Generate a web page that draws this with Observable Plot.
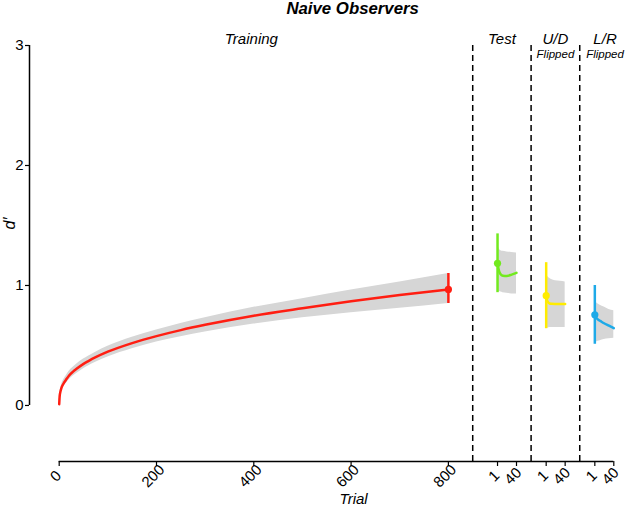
<!DOCTYPE html>
<html>
<head>
<meta charset="utf-8">
<script src="https://cdn.jsdelivr.net/npm/d3@7"></script>
<script src="https://cdn.jsdelivr.net/npm/@observablehq/plot@0.6"></script>
<style>
  html, body { margin: 0; padding: 0; background: #fff; }
  #chart svg { display: block; }
</style>
</head>
<body>
<div id="chart"></div>
<script>
// ---- Data ----
const trainTrial = [0, 1, 2, 5, 10, 15, 20, 28, 35, 50, 60, 75, 100, 150, 200, 250, 300, 400, 500, 600, 700, 800];
const trainD     = [0.01, 0.08, 0.105, 0.15, 0.19, 0.22, 0.248, 0.28, 0.303, 0.347, 0.37, 0.402, 0.448, 0.52, 0.578, 0.628, 0.672, 0.748, 0.81, 0.868, 0.92, 0.967];
const trainLo    = [0.0, 0.065, 0.085, 0.125, 0.16, 0.188, 0.213, 0.243, 0.265, 0.307, 0.329, 0.36, 0.403, 0.472, 0.528, 0.573, 0.612, 0.678, 0.73, 0.773, 0.81, 0.85];
const trainHi    = [0.02, 0.095, 0.125, 0.175, 0.22, 0.252, 0.283, 0.317, 0.341, 0.387, 0.411, 0.444, 0.493, 0.568, 0.628, 0.683, 0.732, 0.818, 0.89, 0.963, 1.03, 1.10];
const trainEnd   = {trial: 800, d: 0.967, lo: 0.85, hi: 1.10};

const phaseTrial = [1, 2, 3, 5, 8, 12, 20, 30, 40];
const testD  = [1.185, 1.16, 1.14, 1.11, 1.09, 1.082, 1.08, 1.09, 1.105];
const testLo = [0.94, 0.945, 0.95, 0.95, 0.945, 0.94, 0.935, 0.93, 0.93];
const testHi = [1.34, 1.33, 1.32, 1.30, 1.29, 1.285, 1.28, 1.275, 1.27];
const testErr = {d: 1.185, lo: 0.94, hi: 1.43};

const udD  = [0.915, 0.89, 0.875, 0.86, 0.85, 0.848, 0.846, 0.845, 0.845];
const udLo = [0.64, 0.64, 0.645, 0.645, 0.65, 0.65, 0.65, 0.65, 0.65];
const udHi = [1.13, 1.11, 1.09, 1.07, 1.06, 1.05, 1.04, 1.035, 1.03];
const udErr = {d: 0.915, lo: 0.64, hi: 1.19};

const lrD  = [0.755, 0.745, 0.735, 0.725, 0.715, 0.705, 0.685, 0.665, 0.645];
const lrLo = [0.52, 0.52, 0.525, 0.53, 0.535, 0.54, 0.55, 0.555, 0.56];
const lrHi = [0.88, 0.87, 0.865, 0.855, 0.845, 0.835, 0.82, 0.80, 0.79];
const lrErr = {d: 0.755, lo: 0.51, hi: 1.0};

// phase offsets on the continuous trial axis
const phaseNames   = ["Test", "U/D", "L/R"];
const phaseOffsets = [900, 1000, 1100];
const phaseColors  = ["#72ea1e", "#ffec00", "#1eaae8"];
const dividers     = [850, 970, 1070];

const tickPos    = [0, 200, 400, 600, 800, 901, 940, 1001, 1040, 1101, 1140];
const tickLabels = ["0", "200", "400", "600", "800", "1", "40", "1", "40", "1", "40"];

const sectionLabels = ["Training", "Test", "U/D", "L/R"];
const sectionX      = [395, 910, 1020, 1122];
const subLabels     = ["Flipped", "Flipped"];
const subX          = [1020, 1122];

const yTicks = [0, 1, 2, 3];
const yMin = -0.467;
const xMax = 1140;

// ---- Build tables ----
const train = trainTrial.map((t, i) => ({t, d: trainD[i], lo: trainLo[i], hi: trainHi[i]}));
const phaseSeries = [
  {d: testD, lo: testLo, hi: testHi, err: testErr},
  {d: udD, lo: udLo, hi: udHi, err: udErr},
  {d: lrD, lo: lrLo, hi: lrHi, err: lrErr}
];
const phaseRows = [];
const phaseErrs = [];
phaseSeries.forEach((s, k) => {
  phaseTrial.forEach((t, i) => phaseRows.push({phase: phaseNames[k], x: phaseOffsets[k] + t, d: s.d[i], lo: s.lo[i], hi: s.hi[i]}));
  phaseErrs.push({phase: phaseNames[k], x: phaseOffsets[k] + phaseTrial[0], d: s.err.d, lo: s.err.lo, hi: s.err.hi, color: phaseColors[k]});
});
const ticks = tickPos.map((p, i) => ({p, label: tickLabels[i]}));
const sections = sectionLabels.map((s, i) => ({s, x: sectionX[i]}));
const subs = subLabels.map((s, i) => ({s, x: subX[i]}));

const font = "'Liberation Sans', Arial, Helvetica, sans-serif";
const RED = "#ff1e12";
const BAND = "#d6d6d6";

const marks = [
  // bands
  Plot.areaY(train, {x: "t", y1: "lo", y2: "hi", fill: BAND, curve: "monotone-x"}),
  ...phaseNames.map((name) => Plot.areaY(phaseRows.filter(r => r.phase === name), {x: "x", y1: "lo", y2: "hi", fill: BAND, curve: "monotone-x"})),
  // dividers
  Plot.ruleX(dividers, {y1: yMin, y2: 3, stroke: "#000", strokeWidth: 1.5, strokeDasharray: "6,4"}),
  // lines
  Plot.line(train, {x: "t", y: "d", stroke: RED, strokeWidth: 2.5, curve: "monotone-x"}),
  ...phaseNames.map((name, k) => Plot.line(phaseRows.filter(r => r.phase === name), {x: "x", y: "d", stroke: phaseColors[k], strokeWidth: 2.5, curve: "monotone-x"})),
  // error bars
  Plot.ruleX([trainEnd], {x: "trial", y1: "lo", y2: "hi", stroke: RED, strokeWidth: 2.5}),
  Plot.ruleX(phaseErrs, {x: "x", y1: "lo", y2: "hi", stroke: "color", strokeWidth: 2.5}),
  Plot.dot([trainEnd], {x: "trial", y: "d", fill: RED, r: 3.6}),
  Plot.dot(phaseErrs, {x: "x", y: "d", fill: "color", r: 3.6}),
  // y axis
  Plot.ruleX([0], {y1: 0, y2: 3, dx: -29.7, stroke: "#000", strokeWidth: 1.5}),
  Plot.axisY({ticks: yTicks, tickFormat: "d", tickSize: 4, tickPadding: 2, fontSize: 15, strokeWidth: 1.2}),
  // x axis
  Plot.ruleY([yMin], {x1: 0, x2: xMax, stroke: "#000", strokeWidth: 1.5}),
  Plot.axisX({ticks: tickPos, tickSize: 5, tickFormat: () => "", strokeWidth: 1.2}),
  Plot.text(ticks, {x: "p", text: "label", frameAnchor: "bottom", dy: 18, rotate: -45, fontSize: 15}),
  // labels
  Plot.text(sections, {x: "x", y: 3, text: "s", lineAnchor: "bottom", dy: -1.5, fontSize: 15, fontStyle: "italic"}),
  Plot.text(subs, {x: "x", y: 3, text: "s", lineAnchor: "bottom", dy: 12, fontSize: 11.5, fontStyle: "italic"}),
  Plot.text(["Naive Observers"], {frameAnchor: "top", dx: 31, dy: -32, lineAnchor: "bottom", fontSize: 16.8, fontWeight: "bold", fontStyle: "italic"}),
  Plot.text(["Trial"], {frameAnchor: "bottom", dx: 32, dy: 42.5, lineAnchor: "bottom", fontSize: 15, fontStyle: "italic"}),
  Plot.text(["d\u2032"], {frameAnchor: "left", dx: -20, dy: -24, rotate: -90, fontSize: 16, fontStyle: "italic"})
];

const chart = Plot.plot({
  width: 625,
  height: 507,
  marginLeft: 29,
  marginRight: 11.7,
  marginTop: 45,
  marginBottom: 46,
  x: {domain: [0, xMax], insetLeft: 29.7, axis: null},
  y: {domain: [yMin, 3], axis: null},
  style: {fontFamily: font, fontSize: "15px", color: "#000", background: "#fff"},
  marks
});
document.getElementById("chart").appendChild(chart);
</script>
</body>
</html>
